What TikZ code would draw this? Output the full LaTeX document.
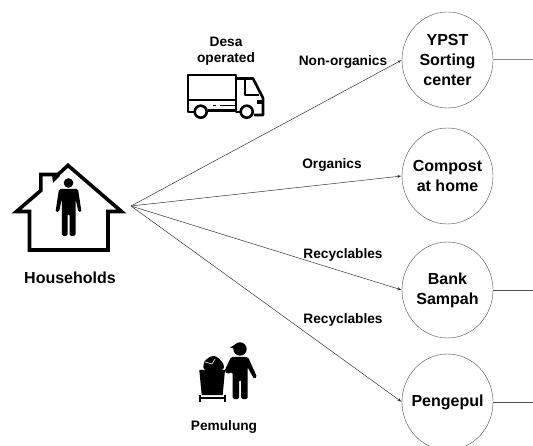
\documentclass[tikz,border=0pt]{standalone}
\usepackage{fontspec}
\setmainfont{Liberation Sans}
\usetikzlibrary{shapes,arrows}
\tikzstyle{line} = [draw, -latex', black!80, line width=0.5pt]
\tikzstyle{stub} = [draw, black!70, line width=0.7pt]
\tikzstyle{place} = [draw, black!70, ellipse, text=black, align=center, minimum width=91pt, minimum height=96pt, inner xsep=-14pt, inner ysep=0pt, font=\fontsize{16}{20}\selectfont\bfseries]
\tikzstyle{caption} = [align=center, font=\fontsize{13.7}{16}\selectfont\bfseries]
\tikzstyle{icon} = [draw, line width=3.6pt, miter limit=10]
\begin{document}
\begin{tikzpicture}[x=1pt, y=-1pt]
        \useasboundingbox (0,0) rectangle (533,446);
        \clip (0,0) rectangle (533,446);
        \node[place] at (447.5,60) (ypst) {YPST\\Sorting\\center};
        \node[place] at (447.5,176) (compost) {Compost\\at home};
        \node[place] at (447.5,290) (bank) {Bank\\Sampah};
        \node[place] at (447.5,402) (pengepul) {Pengepul};
        \coordinate (hub) at (131,206);
        \coordinate (ypstend) at (533,60);
        \coordinate (bankend) at (533,290);
        \coordinate (pengepulend) at (533,402);
        \node[caption, font=\fontsize{16}{20}\selectfont\bfseries] at (70,278) (households) {Households};
        \node[caption] at (226,51) (desa) {Desa\\operated};
        \node[caption] at (224,427) (pemulung) {Pemulung};
        \node[caption] at (343,62) (nonorg) {Non-organics};
        \node[caption] at (332,165) (org) {Organics};
        \node[caption] at (343,255) (recone) {Recyclables};
        \node[caption] at (343,320) (rectwo) {Recyclables};
        \path[line] (hub) -- (ypst.west);
        \path[line] (hub) -- (compost.west);
        \path[line] (hub) -- (bank.west);
        \path[line] (hub) -- (pengepul.west);
        \path[stub, black!45, line width=1pt] (ypst.east) -- (ypstend);
        \path[stub] (bank.east) -- (bankend);
        \path[stub] (pengepul.east) -- (pengepulend);
        % house
        \draw[icon] (29.5,211.5) -- (16.5,211.5) -- (40.8,190.5) -- (40.8,174.5) -- (58,174.5) -- (68,165.4) -- (121.5,211.5) -- (108,211.5) -- (108,250) -- (29.5,250) -- cycle;
        \fill (57,173) -- (60,176) -- (53,183) -- (52,175) -- cycle;
        \fill (68.5,183) circle (4.8);
        \fill[rounded corners=1.5pt] (59,189) -- (78,189) -- (81.5,212) -- (78.5,212) -- (75.5,199) -- (75.5,236) -- (69.5,236) -- (69.5,214) -- (67.5,214) -- (67.5,236) -- (61.8,236) -- (61.8,199) -- (59,212) -- (55.5,212) -- cycle;
        % truck
        \draw[line width=2.6pt, line join=round] (194,112) -- (188,112) -- (188,75) -- (236,75) -- (236,112) -- (240,112);
        \draw[line width=2.6pt] (188,100) -- (236,100);
        \draw[line width=2.6pt, line join=round] (236,78.5) -- (253,78.5) -- (263,98) -- (263,115) -- (254,115);
        \draw[line width=2pt, line join=round] (245,80) -- (245,95) -- (259,95);
        \draw[line width=2.4pt] (208,110.5) -- (236,110.5);
        \draw[line width=1.6pt] (213,105.7) -- (216,105.7) (220,105.7) -- (235,105.7);
        \fill (257,100) rectangle (263,104);
        \draw[line width=2.6pt, fill=white] (200.7,111.7) circle (6);
        \draw[line width=2.6pt, fill=white] (246.7,111.7) circle (6);
        % pemulung
        \fill (240,349) circle (6.7);
        \fill (230,347.5) -- (236,344) -- (236,349) -- cycle;
        \fill[rounded corners=1.5pt] (231,357) -- (248,357) -- (257,377) -- (254,379) -- (247.5,367) -- (247.5,399) -- (241,399) -- (241,380) -- (239,380) -- (239,399) -- (232.5,399) -- (232.5,372) -- (227,374) -- (224.5,371) -- cycle;
        \fill (199.3,370) -- (225,370) -- (222.7,395) -- (201.7,395) -- cycle;
        \fill[rounded corners=3pt] (203,370) -- (204,361) -- (212,355.5) -- (217,356.5) -- (224,364) -- (224,370) -- cycle;
        \draw[white, line width=0.6pt] (205,362) -- (212,364) -- (215,359);
        \draw[line width=1.2pt] (200,398) -- (225,398) (200,395) -- (200,402) (225,395) -- (225,402);
\end{tikzpicture}
\end{document}
